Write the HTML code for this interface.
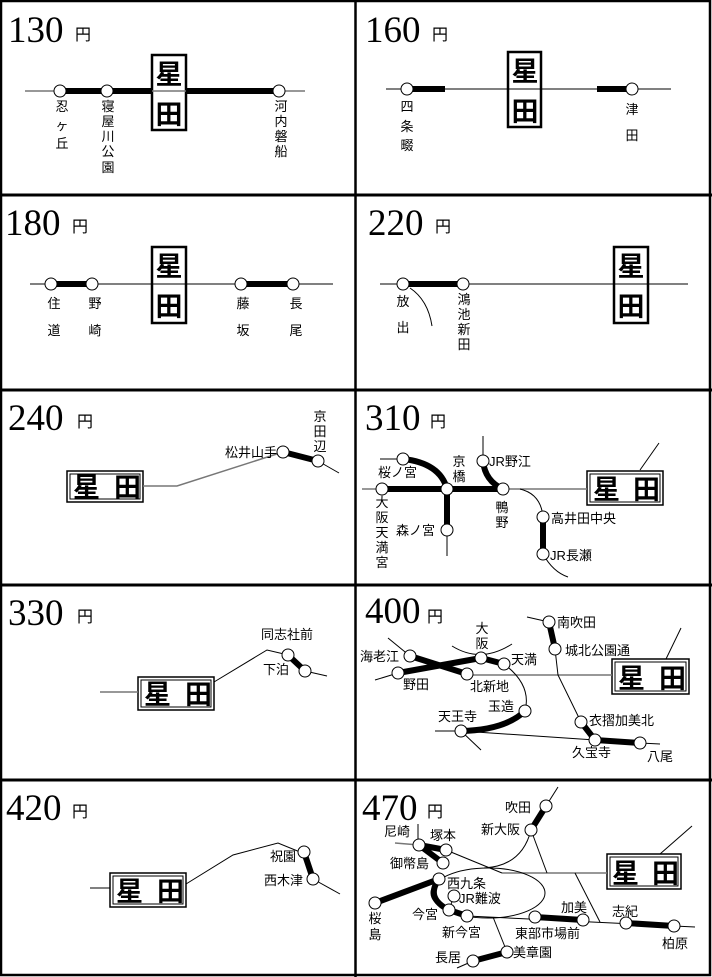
<!DOCTYPE html>
<html><head><meta charset="utf-8"><style>
body{margin:0;background:#fff}
svg{display:block}
.t{font-family:"Liberation Serif",serif;font-size:37px}
.y{font-family:"Liberation Sans","Noto Sans CJK JP",sans-serif;font-size:16px}
.s{font-family:"Liberation Sans","Noto Sans CJK JP",sans-serif;font-size:13px}
.b{font-family:"Liberation Sans","Noto Sans CJK JP",sans-serif;font-size:27px;font-weight:bold}
.th{stroke:#000;stroke-width:6;fill:none}
.tn{stroke:#000;stroke-width:1;fill:none}
.g{stroke:#777;stroke-width:1.5;fill:none}
circle{fill:#fff;stroke:#000;stroke-width:1}
</style></head><body>
<svg width="712" height="977" viewBox="0 0 712 977" xmlns="http://www.w3.org/2000/svg">
<rect x="1" y="1" width="709" height="974" fill="none" stroke="#000" stroke-width="2.5"/>
<line x1="355.5" y1="0" x2="355.5" y2="977" stroke="#000" stroke-width="2.5"/>
<g stroke="#000" stroke-width="3"><line x1="0" y1="195" x2="712" y2="195"/><line x1="0" y1="390" x2="712" y2="390"/><line x1="0" y1="585" x2="712" y2="585"/><line x1="0" y1="780" x2="712" y2="780"/></g>

<!-- titles -->
<g class="t">
<text x="8" y="42">130</text><text x="365" y="42">160</text>
<text x="5" y="235">180</text><text x="368" y="235">220</text>
<text x="8" y="430">240</text><text x="365" y="430">310</text>
<text x="8" y="625">330</text><text x="365" y="623">400</text>
<text x="6" y="820">420</text><text x="362" y="820">470</text>
</g>
<g class="y">
<text x="75" y="40">円</text><text x="432" y="40">円</text>
<text x="72" y="232">円</text><text x="435" y="232">円</text>
<text x="77" y="427">円</text><text x="430" y="427">円</text>
<text x="77" y="622">円</text><text x="427" y="622">円</text>
<text x="72" y="817">円</text><text x="427" y="817">円</text>
</g>

<!-- vertical boxes -->
<g>
<rect x="152" y="55" width="34" height="75" fill="#fff" stroke="#000" stroke-width="2.5"/>
<rect x="508" y="52" width="33" height="75" fill="#fff" stroke="#000" stroke-width="2.5"/>
<rect x="152" y="247" width="34" height="76" fill="#fff" stroke="#000" stroke-width="2.5"/>
<rect x="614" y="247" width="34" height="76" fill="#fff" stroke="#000" stroke-width="2.5"/>
</g>

<!-- 130 -->
<line x1="25" y1="91" x2="305" y2="91" class="g"/>
<line x1="60" y1="91" x2="152" y2="91" class="th"/><line x1="186" y1="91" x2="278" y2="91" class="th"/>
<circle cx="60" cy="91" r="6"/><circle cx="107" cy="91" r="6"/><circle cx="279" cy="91" r="6"/>
<g class="b" text-anchor="middle"><text x="169" y="84">星</text><text x="169" y="124">田</text>
<text x="525" y="81">星</text><text x="525" y="121">田</text>
<text x="169" y="276">星</text><text x="169" y="316">田</text>
<text x="631" y="276">星</text><text x="631" y="316">田</text></g>
<g class="s" text-anchor="middle">
<text x="62" y="111">忍</text><text x="62" y="130">ヶ</text><text x="62" y="148">丘</text>
<text x="108" y="111">寝</text><text x="108" y="126">屋</text><text x="108" y="141">川</text><text x="108" y="156">公</text><text x="108" y="172">園</text>
<text x="281" y="111">河</text><text x="281" y="126">内</text><text x="281" y="141">磐</text><text x="281" y="156">船</text>
</g>

<!-- 160 -->
<line x1="386" y1="89" x2="671" y2="89" class="tn"/>
<line x1="406" y1="89" x2="445" y2="89" class="th"/><line x1="597" y1="89" x2="630" y2="89" class="th"/>
<circle cx="407" cy="89" r="6"/><circle cx="632" cy="89" r="6"/>
<g class="s" text-anchor="middle">
<text x="407" y="111">四</text><text x="407" y="131">条</text><text x="407" y="150">畷</text>
<text x="632" y="114">津</text><text x="632" y="140">田</text>
</g>

<!-- 180 -->
<line x1="30" y1="284" x2="333" y2="284" class="tn"/>
<line x1="51" y1="284" x2="92" y2="284" class="th"/><line x1="241" y1="284" x2="293" y2="284" class="th"/>
<circle cx="51" cy="284" r="6"/><circle cx="92" cy="284" r="6"/><circle cx="241" cy="284" r="6"/><circle cx="293" cy="284" r="6"/>
<g class="s" text-anchor="middle">
<text x="54" y="308">住</text><text x="54" y="335">道</text>
<text x="95" y="308">野</text><text x="95" y="335">崎</text>
<text x="243" y="308">藤</text><text x="243" y="335">坂</text>
<text x="296" y="308">長</text><text x="296" y="335">尾</text>
</g>

<!-- 220 -->
<line x1="380" y1="284" x2="688" y2="284" class="tn"/>
<line x1="403" y1="284" x2="463" y2="284" class="th"/>
<path d="M410,288 Q428,300 432,326" class="tn"/>
<circle cx="403" cy="284" r="6"/><circle cx="463" cy="284" r="6"/>
<g class="s" text-anchor="middle">
<text x="403" y="306">放</text><text x="403" y="332">出</text>
<text x="464" y="304">鴻</text><text x="464" y="319">池</text><text x="464" y="334">新</text><text x="464" y="349">田</text>
</g>

<!-- horizontal boxes -->
<g fill="#fff" stroke="#000" stroke-width="1.5">
<rect x="67" y="471" width="76" height="31"/><rect x="587" y="471" width="76" height="34"/>
<rect x="138" y="677" width="76" height="33"/><rect x="612" y="659" width="77" height="35"/>
<rect x="110" y="873" width="76" height="34"/><rect x="607" y="854" width="74" height="35"/>
</g>
<g fill="none" stroke="#000" stroke-width="1">
<rect x="70" y="474" width="70" height="25"/><rect x="590" y="474" width="70" height="28"/>
<rect x="141" y="680" width="70" height="27"/><rect x="615" y="662" width="71" height="29"/>
<rect x="113" y="876" width="70" height="28"/><rect x="610" y="857" width="68" height="29"/>
</g>
<g class="b" font-size="26">
<text x="73" y="497">星</text><text x="114" y="497">田</text>
<text x="593" y="499">星</text><text x="633" y="499">田</text>
<text x="144" y="704">星</text><text x="185" y="704">田</text>
<text x="618" y="688">星</text><text x="659" y="688">田</text>
<text x="116" y="901">星</text><text x="157" y="901">田</text>
<text x="612" y="883">星</text><text x="652" y="883">田</text>
</g>

<!-- 240 -->
<polyline points="143,486 177,486 283,452" class="g"/>
<line x1="283" y1="452" x2="318" y2="461" class="th"/>
<line x1="318" y1="461" x2="339" y2="473" class="tn"/>
<circle cx="283" cy="452" r="6"/><circle cx="318" cy="461" r="6"/>
<text x="277" y="457" class="s" text-anchor="end">松井山手</text>
<g class="s" text-anchor="middle"><text x="320" y="421">京</text><text x="320" y="436">田</text><text x="320" y="451">辺</text></g>

<!-- 310 -->
<line x1="362" y1="489" x2="587" y2="489" class="g"/>
<line x1="382" y1="489" x2="503" y2="489" class="th"/>
<line x1="640" y1="470" x2="659" y2="443" class="tn"/>
<line x1="380" y1="459" x2="403" y2="459" class="tn"/>
<path d="M403,459 Q440,463 447,489" class="th"/>
<line x1="483" y1="436" x2="483" y2="461" class="tn"/>
<path d="M483,461 Q485,481 503,489" class="th"/>
<line x1="447" y1="489" x2="447" y2="530" class="th"/>
<line x1="447" y1="530" x2="447" y2="556" class="tn"/>
<path d="M520,489 Q541,494 543,517" class="tn"/>
<line x1="543" y1="517" x2="543" y2="554" class="th"/>
<path d="M543,554 Q553,572 568,577" class="tn"/>
<circle cx="382" cy="489" r="6"/><circle cx="447" cy="489" r="6"/><circle cx="503" cy="489" r="6"/>
<circle cx="403" cy="459" r="6"/><circle cx="483" cy="461" r="6"/><circle cx="447" cy="530" r="6"/>
<circle cx="543" cy="517" r="6"/><circle cx="543" cy="554" r="6"/>
<g class="s">
<text x="378" y="477">桜ノ宮</text><text x="489" y="466">JR野江</text>
<text x="396" y="535">森ノ宮</text><text x="551" y="523">高井田中央</text><text x="550" y="560">JR長瀬</text>
</g>
<g class="s" text-anchor="middle">
<text x="459" y="466">京</text><text x="459" y="481">橋</text>
<text x="502" y="512">鴨</text><text x="502" y="527">野</text>
<text x="382" y="507">大</text><text x="382" y="522">阪</text><text x="382" y="537">天</text><text x="382" y="552">満</text><text x="382" y="567">宮</text>
</g>

<!-- 330 -->
<line x1="100" y1="692" x2="138" y2="692" class="g"/>
<polyline points="214,682 267,650 284,654" class="tn"/>
<line x1="288" y1="655" x2="305" y2="671" class="th"/>
<line x1="305" y1="671" x2="327" y2="676" class="tn"/>
<circle cx="288" cy="655" r="6"/><circle cx="305" cy="671" r="6"/>
<text x="261" y="639" class="s">同志社前</text><text x="263" y="674" class="s">下泊</text>

<!-- 420 -->
<line x1="90" y1="888" x2="110" y2="888" class="tn"/>
<polyline points="186,884 233,855 278,843 300,852" class="tn"/>
<line x1="304" y1="852" x2="313" y2="879" class="th"/>
<line x1="313" y1="879" x2="340" y2="894" class="tn"/>
<circle cx="304" cy="852" r="6"/><circle cx="313" cy="879" r="6"/>
<text x="270" y="861" class="s">祝園</text><text x="264" y="885" class="s">西木津</text>

<!-- 400 -->
<line x1="467" y1="675" x2="612" y2="675" class="g"/>
<line x1="666" y1="659" x2="681" y2="628" class="tn"/>
<line x1="388" y1="638" x2="410" y2="656" class="tn"/>
<line x1="375" y1="680" x2="398" y2="673" class="tn"/>
<line x1="410" y1="656" x2="467" y2="674" class="th"/>
<polyline points="398,673 481,658 504,664" class="th"/>
<path d="M452,646 Q481,664 512,644" class="tn"/>
<path d="M504,664 Q532,685 525,711" class="tn"/>
<path d="M525,711 Q505,730 461,731" class="th"/>
<line x1="435" y1="731" x2="461" y2="731" class="tn"/>
<line x1="461" y1="731" x2="481" y2="750" class="tn"/>
<line x1="461" y1="731" x2="595" y2="740" class="tn"/>
<line x1="527" y1="617" x2="549" y2="622" class="tn"/>
<line x1="549" y1="622" x2="555" y2="649" class="th"/>
<polyline points="555,649 558,675 581,722" class="tn"/>
<polyline points="581,722 595,740 640,743" class="th"/>
<line x1="640" y1="743" x2="660" y2="744" class="tn"/>
<circle cx="410" cy="656" r="6"/><circle cx="398" cy="673" r="6"/><circle cx="481" cy="658" r="6"/>
<circle cx="504" cy="664" r="6"/><circle cx="467" cy="674" r="6"/><circle cx="525" cy="711" r="6"/>
<circle cx="461" cy="731" r="6"/><circle cx="549" cy="622" r="6"/><circle cx="555" cy="649" r="6"/>
<circle cx="581" cy="722" r="6"/><circle cx="595" cy="740" r="6"/><circle cx="640" cy="743" r="6"/>
<g class="s">
<text x="557" y="627">南吹田</text><text x="565" y="655">城北公園通</text>
<text x="360" y="661">海老江</text><text x="511" y="664">天満</text>
<text x="403" y="689">野田</text><text x="470" y="691">北新地</text>
<text x="488" y="711">玉造</text><text x="438" y="721">天王寺</text>
<text x="589" y="725">衣摺加美北</text><text x="572" y="757">久宝寺</text><text x="647" y="761">八尾</text>
</g>
<g class="s" text-anchor="middle"><text x="482" y="633">大</text><text x="482" y="648">阪</text></g>

<!-- 470 -->
<line x1="502" y1="873" x2="607" y2="873" class="g"/>
<line x1="660" y1="854" x2="692" y2="826" class="tn"/>
<ellipse cx="488" cy="893" rx="57" ry="25" fill="none" stroke="#000" stroke-width="1"/>
<line x1="546" y1="806" x2="558" y2="787" class="tn"/>
<line x1="546" y1="806" x2="531" y2="830" class="th"/>
<path d="M531,830 Q522,866 484,868" class="tn"/>
<line x1="531" y1="830" x2="547" y2="873" class="tn"/>
<line x1="575" y1="873" x2="600" y2="922" class="tn"/>
<line x1="418" y1="824" x2="418" y2="840" class="tn"/>
<line x1="395" y1="843" x2="419" y2="845" class="g"/>
<polyline points="446,850 419,845 443,863" class="th"/>
<line x1="446" y1="850" x2="502" y2="873" class="tn"/>
<line x1="375" y1="903" x2="439" y2="879" class="th"/>
<path d="M439,879 Q425,898 449,910 L467,916" class="th"/>
<line x1="454" y1="896" x2="449" y2="910" class="tn" stroke-width="3"/>
<line x1="467" y1="916" x2="695" y2="927" class="tn"/>
<line x1="535" y1="917" x2="583" y2="920" class="th"/>
<line x1="626" y1="923" x2="674" y2="926" class="th"/>
<line x1="493" y1="917" x2="507" y2="952" class="tn"/>
<line x1="507" y1="952" x2="473" y2="961" class="th"/>
<line x1="473" y1="961" x2="457" y2="968" class="tn"/>
<circle cx="546" cy="806" r="6"/><circle cx="531" cy="830" r="6"/><circle cx="419" cy="845" r="6"/>
<circle cx="446" cy="850" r="6"/><circle cx="443" cy="863" r="6"/><circle cx="439" cy="879" r="6"/>
<circle cx="454" cy="896" r="6"/><circle cx="375" cy="903" r="6"/><circle cx="449" cy="910" r="6"/>
<circle cx="467" cy="916" r="6"/><circle cx="535" cy="917" r="6"/><circle cx="583" cy="920" r="6"/>
<circle cx="626" cy="923" r="6"/><circle cx="674" cy="926" r="6"/><circle cx="507" cy="952" r="6"/>
<circle cx="473" cy="961" r="6"/>
<g class="s">
<text x="505" y="812">吹田</text><text x="481" y="834">新大阪</text>
<text x="384" y="836">尼崎</text><text x="430" y="840">塚本</text>
<text x="390" y="868">御幣島</text><text x="447" y="888">西九条</text>
<text x="459" y="903">JR難波</text><text x="412" y="919">今宮</text>
<text x="442" y="937">新今宮</text><text x="515" y="938">東部市場前</text>
<text x="561" y="912">加美</text><text x="612" y="916">志紀</text>
<text x="662" y="948">柏原</text><text x="513" y="957">美章園</text><text x="435" y="962">長居</text>
</g>
<g class="s" text-anchor="middle"><text x="375" y="923">桜</text><text x="375" y="939">島</text></g>
</svg>
</body></html>
